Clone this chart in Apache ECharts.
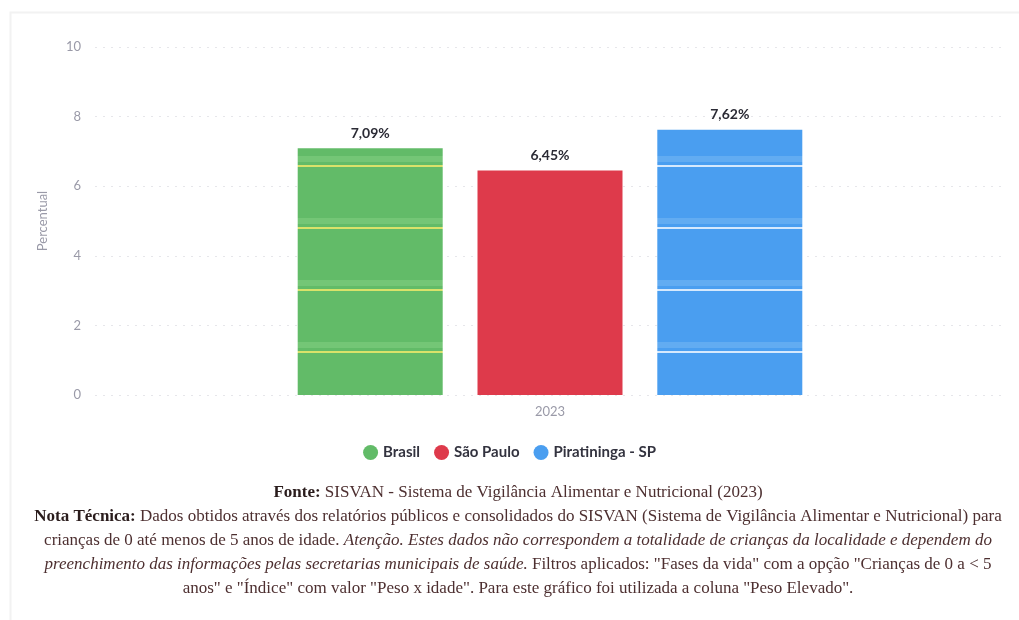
<!DOCTYPE html>
<html>
<head>
<meta charset="utf-8">
<script src="https://cdn.jsdelivr.net/npm/echarts@6/dist/echarts.min.js"></script>
<style>
html,body{margin:0;padding:0;background:#fff;}
#chart{width:1019px;height:620px;}
</style>
</head>
<body>
<div id="chart"></div>
<script>
const categories = ['2023'];
const seriesNames = ['Brasil', 'São Paulo', 'Piratininga - SP'];
const brasilValues = [7.09];
const saoPauloValues = [6.45];
const piratiningaValues = [7.62];
const yTicks = [0, 2, 4, 6, 8, 10];
const footerLines = [
  [['b', 'Fonte: '], ['n', 'SISVAN - Sistema de Vigilância Alimentar e Nutricional (2023)']],
  [['b', 'Nota Técnica: '], ['n', 'Dados obtidos através dos relatórios públicos e consolidados do SISVAN (Sistema de Vigilância Alimentar e Nutricional) para']],
  [['n', 'crianças de 0 até menos de 5 anos de idade. '], ['i', 'Atenção. Estes dados não correspondem a totalidade de crianças da localidade e dependem do']],
  [['i', 'preenchimento das informações pelas secretarias municipais de saúde.'], ['n', ' Filtros aplicados: "Fases da vida" com a opção "Crianças de 0 a < 5']],
  [['n', 'anos" e "Índice" com valor "Peso x idade". Para este gráfico foi utilizada a coluna "Peso Elevado".']]
];

const colors = ['#62bb68', '#de3a4b', '#4a9ef0'];
const stripeLine = ['#d9e26a', '#ded0d2', '#d6e9fd'];
const stripeBand = ['#74c676', '#de3a4b', '#62acf2'];
const stripeCenters = [166, 228, 290, 352];

function stripedFill(i) {
  const H = 620;
  if (i === 1) return colors[i];
  const stops = [{offset: 0, color: colors[i]}];
  stripeCenters.forEach(c => {
    const add = (y, col) => stops.push({offset: y / H, color: col});
    add(c - 10, colors[i]); add(c - 10, stripeBand[i]);
    add(c - 4, stripeBand[i]); add(c - 4, colors[i]);
    add(c - 1, colors[i]); add(c - 1, stripeLine[i]);
    add(c + 1, stripeLine[i]); add(c + 1, colors[i]);
  });
  stops.push({offset: 1, color: colors[i]});
  return new echarts.graphic.LinearGradient(0, 0, 0, H, stops, true);
}

const fmt = v => v.toFixed(2).replace('.', ',') + '%';

const allValues = [brasilValues, saoPauloValues, piratiningaValues];

const chart = echarts.init(document.getElementById('chart'), null, {renderer: 'canvas'});

const FS = 17;
const footerGraphics = footerLines.map((parts, li) => ({
  type: 'text',
  x: 518,
  y: 484 + li * 24,
  style: {
    text: parts.map(p => '{' + p[0] + '|' + p[1] + '}').join(''),
    align: 'center',
    verticalAlign: 'top',
    rich: {
      b: {fontFamily: 'Liberation Serif', fontSize: FS, fontWeight: 'bold', fill: '#2a1c1c', color: '#2a1c1c'},
      n: {fontFamily: 'Liberation Serif', fontSize: FS, fill: '#4d2f30', color: '#4d2f30'},
      i: {fontFamily: 'Liberation Serif', fontSize: FS, fontStyle: 'italic', fill: '#4d2f30', color: '#4d2f30'}
    }
  }
}));

chart.setOption({
  backgroundColor: '#ffffff',
  animation: false,
  color: colors,
  grid: {left: 95, right: 14, top: 47, bottom: 225},
  legend: {
    top: 440,
    left: 'center',
    itemGap: 14,
    itemWidth: 15,
    itemHeight: 15,
    icon: 'circle',
    textStyle: {fontFamily: 'Lato', fontWeight: 'bold', fontSize: 15, color: '#33333f'},
    data: seriesNames.map((n, i) => ({name: n, itemStyle: {color: colors[i]}}))
  },
  xAxis: {
    type: 'category',
    data: categories,
    axisLine: {show: false},
    axisTick: {show: false},
    axisLabel: {color: '#9a9aa8', fontFamily: 'Lato', fontSize: 13, margin: 10}
  },
  yAxis: {
    type: 'value',
    min: yTicks[0],
    max: yTicks[yTicks.length - 1],
    interval: yTicks[1] - yTicks[0],
    name: 'Percentual',
    nameLocation: 'middle',
    nameGap: 46,
    nameTextStyle: {color: '#9a9aa8', fontFamily: 'Lato', fontSize: 13},
    axisLine: {show: false},
    axisTick: {show: false},
    axisLabel: {color: '#9a9aa8', fontFamily: 'Lato', fontSize: 13, margin: 14},
    splitLine: {lineStyle: {color: '#e6e6ea', type: [2, 6], width: 1}}
  },
  series: seriesNames.map((name, i) => ({
    name: name,
    type: 'bar',
    data: allValues[i],
    barWidth: 145,
    barGap: '24%',
    itemStyle: {color: stripedFill(i)},
    label: {
      show: true,
      position: 'top',
      distance: 8,
      formatter: p => fmt(p.value),
      fontFamily: 'Lato',
      fontWeight: 'bold',
      fontSize: 14,
      color: '#2b2b35'
    }
  })),
  graphic: footerGraphics.concat([{
    type: 'rect',
    left: 8, top: 10,
    shape: {width: 1011, height: 610},
    style: {fill: 'none', stroke: '#f2f2f2', lineWidth: 2},
    silent: true, z: -1
  }])
});
</script>
</body>
</html>
